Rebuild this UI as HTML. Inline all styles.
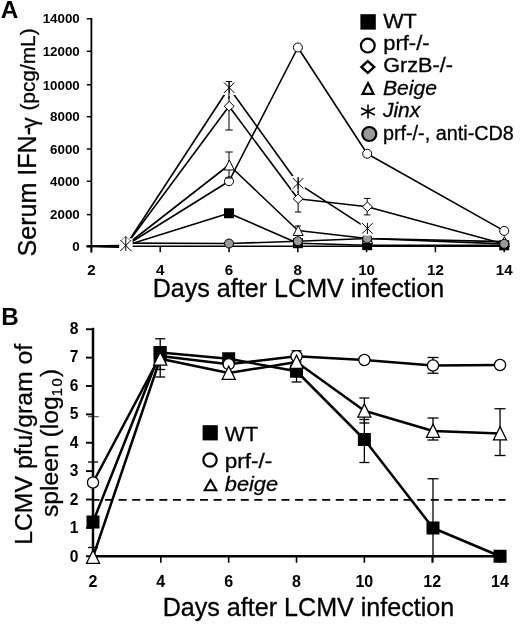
<!DOCTYPE html>
<html><head><meta charset="utf-8"><title>Figure</title>
<style>
html,body{margin:0;padding:0;background:#fff;}
svg{display:block;font-family:'Liberation Sans', Arial, sans-serif;fill:#000;}
text{stroke:#000;stroke-width:0.3px;}
text[font-weight=bold]{stroke:none;}
</style></head><body>
<svg width="520" height="625" viewBox="0 0 520 625">
<rect width="520" height="625" fill="#fff"/>
<g id="panelA">
<line x1="91.4" y1="18" x2="91.4" y2="252.5" stroke="#000" stroke-width="1.8"/>
<line x1="90.55" y1="246.2" x2="504.5" y2="246.2" stroke="#000" stroke-width="1.6"/>
<line x1="86.8" y1="18.75" x2="91.4" y2="18.75" stroke="#000" stroke-width="1.5"/>
<text transform="translate(79.8,23.45) scale(1.115,1)" font-size="12" font-weight="bold" text-anchor="end">14000</text>
<line x1="86.8" y1="51.3" x2="91.4" y2="51.3" stroke="#000" stroke-width="1.5"/>
<text transform="translate(79.8,56.0) scale(1.115,1)" font-size="12" font-weight="bold" text-anchor="end">12000</text>
<line x1="86.8" y1="84.8" x2="91.4" y2="84.8" stroke="#000" stroke-width="1.5"/>
<text transform="translate(79.8,89.5) scale(1.115,1)" font-size="12" font-weight="bold" text-anchor="end">10000</text>
<line x1="86.8" y1="116.7" x2="91.4" y2="116.7" stroke="#000" stroke-width="1.5"/>
<text transform="translate(79.8,121.4) scale(1.115,1)" font-size="12" font-weight="bold" text-anchor="end">8000</text>
<line x1="86.8" y1="149" x2="91.4" y2="149" stroke="#000" stroke-width="1.5"/>
<text transform="translate(79.8,153.7) scale(1.115,1)" font-size="12" font-weight="bold" text-anchor="end">6000</text>
<line x1="86.8" y1="181.3" x2="91.4" y2="181.3" stroke="#000" stroke-width="1.5"/>
<text transform="translate(79.8,186.0) scale(1.115,1)" font-size="12" font-weight="bold" text-anchor="end">4000</text>
<line x1="86.8" y1="214.6" x2="91.4" y2="214.6" stroke="#000" stroke-width="1.5"/>
<text transform="translate(79.8,219.3) scale(1.115,1)" font-size="12" font-weight="bold" text-anchor="end">2000</text>
<line x1="86.8" y1="246.2" x2="91.4" y2="246.2" stroke="#000" stroke-width="1.5"/>
<text transform="translate(79.8,250.9) scale(1.115,1)" font-size="12" font-weight="bold" text-anchor="end">0</text>
<line x1="91.4" y1="246.2" x2="91.4" y2="252.2" stroke="#000" stroke-width="1.5"/>
<text transform="translate(91.4,275.3) scale(1.08,1)" font-size="14" font-weight="bold" text-anchor="middle">2</text>
<line x1="160.2" y1="246.2" x2="160.2" y2="252.2" stroke="#000" stroke-width="1.5"/>
<text transform="translate(160.2,275.3) scale(1.08,1)" font-size="14" font-weight="bold" text-anchor="middle">4</text>
<line x1="229.0" y1="246.2" x2="229.0" y2="252.2" stroke="#000" stroke-width="1.5"/>
<text transform="translate(229.0,275.3) scale(1.08,1)" font-size="14" font-weight="bold" text-anchor="middle">6</text>
<line x1="297.8" y1="246.2" x2="297.8" y2="252.2" stroke="#000" stroke-width="1.5"/>
<text transform="translate(297.8,275.3) scale(1.08,1)" font-size="14" font-weight="bold" text-anchor="middle">8</text>
<line x1="366.6" y1="246.2" x2="366.6" y2="252.2" stroke="#000" stroke-width="1.5"/>
<text transform="translate(366.6,275.3) scale(1.08,1)" font-size="14" font-weight="bold" text-anchor="middle">10</text>
<line x1="435.4" y1="246.2" x2="435.4" y2="252.2" stroke="#000" stroke-width="1.5"/>
<text transform="translate(435.4,275.3) scale(1.08,1)" font-size="14" font-weight="bold" text-anchor="middle">12</text>
<line x1="504.2" y1="246.2" x2="504.2" y2="252.2" stroke="#000" stroke-width="1.5"/>
<text transform="translate(504.2,275.3) scale(1.08,1)" font-size="14" font-weight="bold" text-anchor="middle">14</text>
<polygon points="91.4,245.2 106,245 119.6,244.7 119.6,248 106,247.7 91.4,247.3" fill="#000"/>
<line x1="86.6" y1="246.3" x2="91.4" y2="246.3" stroke="#000" stroke-width="2.6"/>
<polyline fill="none" stroke="#000" stroke-width="1.6" stroke-linejoin="round" points="125.8,245.5 229,213.25 297.9,243.2 367.2,245.2 504.2,245.3"/>
<rect x="224.0" y="208.25" width="10" height="10" fill="#000"/>
<rect x="292.9" y="238.2" width="10" height="10" fill="#000"/>
<rect x="362.2" y="240.2" width="10" height="10" fill="#000"/>
<rect x="499.2" y="240.3" width="10" height="10" fill="#000"/>
<polyline fill="none" stroke="#000" stroke-width="1.6" stroke-linejoin="round" points="125.8,245.5 229,181.25 297.9,47.5 367.2,153.75 504.2,230.9"/>
<circle cx="125.8" cy="245.5" r="4.5" fill="#fff" stroke="#000" stroke-width="1"/>
<circle cx="229" cy="181.25" r="4.5" fill="#fff" stroke="#000" stroke-width="1"/>
<circle cx="297.9" cy="47.5" r="4.5" fill="#fff" stroke="#000" stroke-width="1"/>
<circle cx="367.2" cy="153.75" r="4.5" fill="#fff" stroke="#000" stroke-width="1"/>
<circle cx="504.2" cy="230.9" r="4.5" fill="#fff" stroke="#000" stroke-width="1"/>
<polyline fill="none" stroke="#000" stroke-width="1.6" stroke-linejoin="round" points="125.8,245.5 229,106.25 297.9,198.75 367.2,206.75 504.2,244"/>
<line x1="229" y1="96" x2="229" y2="130" stroke="#000" stroke-width="1"/>
<line x1="225.25" y1="130" x2="232.75" y2="130" stroke="#000" stroke-width="1"/>
<line x1="298.1" y1="191" x2="298.1" y2="212" stroke="#000" stroke-width="1"/>
<line x1="294.85" y1="212" x2="301.35" y2="212" stroke="#000" stroke-width="1"/>
<line x1="367.2" y1="198.4" x2="367.2" y2="214.9" stroke="#000" stroke-width="1"/>
<line x1="363.95" y1="198.4" x2="370.45" y2="198.4" stroke="#000" stroke-width="1"/>
<line x1="363.95" y1="214.9" x2="370.45" y2="214.9" stroke="#000" stroke-width="1"/>
<polygon points="126.0,240.75 131.0,245.5 126.0,250.25 121.0,245.5" fill="#fff" stroke="#000" stroke-width="1"/>
<polygon points="229.2,101.5 234.2,106.25 229.2,111.0 224.2,106.25" fill="#fff" stroke="#000" stroke-width="1"/>
<polygon points="298.1,194.0 303.1,198.75 298.1,203.5 293.1,198.75" fill="#fff" stroke="#000" stroke-width="1"/>
<polygon points="367.4,202.0 372.4,206.75 367.4,211.5 362.4,206.75" fill="#fff" stroke="#000" stroke-width="1"/>
<polygon points="504.4,239.25 509.4,244 504.4,248.75 499.4,244" fill="#fff" stroke="#000" stroke-width="1"/>
<polyline fill="none" stroke="#000" stroke-width="1.6" stroke-linejoin="round" points="125.8,245.5 229,165 297.9,230.5 367.2,238.5 504.2,241.6"/>
<line x1="229" y1="152" x2="229" y2="178" stroke="#000" stroke-width="1"/>
<line x1="225.25" y1="152" x2="232.75" y2="152" stroke="#000" stroke-width="1"/>
<line x1="225.25" y1="178" x2="232.75" y2="178" stroke="#000" stroke-width="1"/>
<line x1="297.9" y1="226" x2="297.9" y2="235" stroke="#000" stroke-width="1"/>
<line x1="294.9" y1="226" x2="300.9" y2="226" stroke="#000" stroke-width="1"/>
<line x1="294.9" y1="235" x2="300.9" y2="235" stroke="#000" stroke-width="1"/>
<polygon points="126.1,240.5 131.1,250.5 121.1,250.5" fill="#fff" stroke="#000" stroke-width="1"/>
<polygon points="229.3,160.0 234.3,170.0 224.3,170.0" fill="#fff" stroke="#000" stroke-width="1"/>
<polygon points="298.2,225.5 303.2,235.5 293.2,235.5" fill="#fff" stroke="#000" stroke-width="1"/>
<polygon points="367.5,233.5 372.5,243.5 362.5,243.5" fill="#fff" stroke="#000" stroke-width="1"/>
<polygon points="504.5,236.6 509.5,246.6 499.5,246.6" fill="#fff" stroke="#000" stroke-width="1"/>
<polyline fill="none" stroke="#000" stroke-width="1.6" stroke-linejoin="round" points="125.8,243.1 229,243.5 297.9,241.25 367.2,238.5 504.2,243.85"/>
<circle cx="229" cy="243.5" r="4.5" fill="#999" stroke="#000" stroke-width="1"/>
<circle cx="297.9" cy="241.25" r="4.5" fill="#999" stroke="#000" stroke-width="1"/>
<circle cx="367.2" cy="238.5" r="4.5" fill="#999" stroke="#000" stroke-width="1"/>
<circle cx="504.2" cy="243.85" r="4.5" fill="#999" stroke="#000" stroke-width="1"/>
<polyline fill="none" stroke="#000" stroke-width="1.6" stroke-linejoin="round" points="125.8,245.5 229,87.7 297.9,183.3 367.2,228.4"/>
<rect x="119.2" y="238.3" width="13.4" height="14.4" fill="#fff"/>
<rect x="222.5" y="80.5" width="13.4" height="14.4" fill="#fff"/>
<rect x="291.4" y="176.1" width="13.4" height="14.4" fill="#fff"/>
<rect x="360.7" y="221.2" width="13.4" height="14.4" fill="#fff"/>
<line x1="229" y1="81.5" x2="229" y2="99" stroke="#000" stroke-width="1"/>
<line x1="225.8" y1="81.5" x2="232.2" y2="81.5" stroke="#000" stroke-width="1"/>
<line x1="298.1" y1="177" x2="298.1" y2="193" stroke="#000" stroke-width="1"/>
<line x1="125.8" y1="236.3" x2="125.8" y2="250.8" stroke="#000" stroke-width="1"/>
<line x1="120.3" y1="240.0" x2="131.3" y2="251.0" stroke="#000" stroke-width="1"/>
<line x1="120.3" y1="251.0" x2="131.3" y2="240.0" stroke="#000" stroke-width="1"/>
<line x1="125.6" y1="236.5" x2="121.2" y2="240.4" stroke="#000" stroke-width="0.7" opacity="0.7"/>
<line x1="125.6" y1="236.5" x2="130.2" y2="240.4" stroke="#000" stroke-width="0.7" opacity="0.7"/>
<line x1="229.2" y1="82.15" x2="229.2" y2="93.25" stroke="#000" stroke-width="1"/>
<line x1="223.95" y1="82.45" x2="234.45" y2="92.95" stroke="#000" stroke-width="1"/>
<line x1="223.95" y1="92.95" x2="234.45" y2="82.45" stroke="#000" stroke-width="1"/>
<line x1="298.1" y1="177.75" x2="298.1" y2="188.85" stroke="#000" stroke-width="1"/>
<line x1="292.85" y1="178.05" x2="303.35" y2="188.55" stroke="#000" stroke-width="1"/>
<line x1="292.85" y1="188.55" x2="303.35" y2="178.05" stroke="#000" stroke-width="1"/>
<line x1="367.4" y1="222.85" x2="367.4" y2="233.95" stroke="#000" stroke-width="1"/>
<line x1="362.15" y1="223.15" x2="372.65" y2="233.65" stroke="#000" stroke-width="1"/>
<line x1="362.15" y1="233.65" x2="372.65" y2="223.15" stroke="#000" stroke-width="1"/>
<rect x="360.4" y="14.2" width="15.4" height="15.4" fill="#000"/>
<circle cx="367.8" cy="45.6" r="6.9" fill="#fff" stroke="#000" stroke-width="2.2"/>
<polygon points="367.8,61.2 374.2,67 367.8,72.8 361.4,67" fill="#fff" stroke="#000" stroke-width="2.4"/>
<polygon points="368,83.1 373.5,93.9 362.5,93.9" fill="#fff" stroke="#000" stroke-width="2.2"/>
<line x1="368.0" y1="104.4" x2="368.0" y2="118.6" stroke="#000" stroke-width="1.6"/>
<line x1="361.07" y1="107.95" x2="374.93" y2="115.05" stroke="#000" stroke-width="1.6"/>
<line x1="374.93" y1="107.95" x2="361.07" y2="115.05" stroke="#000" stroke-width="1.6"/>
<circle cx="369.3" cy="134" r="7.0" fill="#999" stroke="#000" stroke-width="2.2"/>
<text transform="translate(383.2,27.8)" font-size="19.5" textLength="33.6" lengthAdjust="spacingAndGlyphs">WT</text>
<text transform="translate(383.2,49.6)" font-size="19.5" textLength="46.4" lengthAdjust="spacingAndGlyphs">prf-/-</text>
<text transform="translate(383.2,72.4)" font-size="19.5" textLength="69.7" lengthAdjust="spacingAndGlyphs">GrzB-/-</text>
<text transform="translate(382.9,94.8)" font-size="19.5" font-style="italic" textLength="54" lengthAdjust="spacingAndGlyphs">Beige</text>
<text transform="translate(382.9,117.4)" font-size="19.5" font-style="italic" textLength="37.4" lengthAdjust="spacingAndGlyphs">Jinx</text>
<text transform="translate(382.9,139.6)" font-size="19.5" textLength="131" lengthAdjust="spacingAndGlyphs">prf-/-, anti-CD8</text>
<text transform="translate(0.8,17.5)" font-size="24.3" font-weight="bold">A</text>
<text transform="translate(152.7,297.3) scale(1,1.035)" font-size="24.8" textLength="291.6" lengthAdjust="spacingAndGlyphs">Days after LCMV infection</text>
<text transform="translate(36.4,256.5) rotate(-90) scale(1,1.07)" font-size="24.7" textLength="129.6" lengthAdjust="spacingAndGlyphs">Serum IFN-</text>
<text transform="translate(36.6,128.2) rotate(-90)" font-size="21.5">γ</text>
<text transform="translate(35.4,110.6) rotate(-90)" font-size="19.6" textLength="82.2" lengthAdjust="spacingAndGlyphs">(pcg/mL)</text>
</g>
<g id="panelB">
<line x1="93" y1="327.8" x2="93" y2="557.5" stroke="#000" stroke-width="2.5"/>
<line x1="91.75" y1="556.25" x2="506" y2="556.25" stroke="#000" stroke-width="2.5"/>
<line x1="86" y1="556.25" x2="93" y2="556.25" stroke="#000" stroke-width="1.9"/>
<text transform="translate(78.5,561.5)" font-size="15.6" font-weight="bold" text-anchor="end">0</text>
<line x1="86" y1="527.88" x2="93" y2="527.88" stroke="#000" stroke-width="1.9"/>
<text transform="translate(78.5,533.0)" font-size="15.6" font-weight="bold" text-anchor="end">1</text>
<line x1="86" y1="499.5" x2="93" y2="499.5" stroke="#000" stroke-width="1.9"/>
<text transform="translate(78.5,504.5)" font-size="15.6" font-weight="bold" text-anchor="end">2</text>
<line x1="86" y1="471.12" x2="93" y2="471.12" stroke="#000" stroke-width="1.9"/>
<text transform="translate(78.5,476.0)" font-size="15.6" font-weight="bold" text-anchor="end">3</text>
<line x1="86" y1="442.75" x2="93" y2="442.75" stroke="#000" stroke-width="1.9"/>
<text transform="translate(78.5,447.5)" font-size="15.6" font-weight="bold" text-anchor="end">4</text>
<line x1="86" y1="414.38" x2="93" y2="414.38" stroke="#000" stroke-width="1.9"/>
<text transform="translate(78.5,419.0)" font-size="15.6" font-weight="bold" text-anchor="end">5</text>
<line x1="86" y1="386.0" x2="93" y2="386.0" stroke="#000" stroke-width="1.9"/>
<text transform="translate(78.5,390.5)" font-size="15.6" font-weight="bold" text-anchor="end">6</text>
<line x1="86" y1="357.62" x2="93" y2="357.62" stroke="#000" stroke-width="1.9"/>
<text transform="translate(78.5,362.0)" font-size="15.6" font-weight="bold" text-anchor="end">7</text>
<line x1="86" y1="329.25" x2="93" y2="329.25" stroke="#000" stroke-width="1.9"/>
<text transform="translate(78.5,333.5)" font-size="15.6" font-weight="bold" text-anchor="end">8</text>
<line x1="88" y1="416.7" x2="98.75" y2="416.7" stroke="#000" stroke-width="0.8"/>
<line x1="93.0" y1="556.25" x2="93.0" y2="562.75" stroke="#000" stroke-width="1.6"/>
<text transform="translate(93.0,586.5) scale(1.03,1)" font-size="15.6" font-weight="bold" text-anchor="middle">2</text>
<line x1="160.84" y1="556.25" x2="160.84" y2="562.75" stroke="#000" stroke-width="1.6"/>
<text transform="translate(160.84,586.5) scale(1.03,1)" font-size="15.6" font-weight="bold" text-anchor="middle">4</text>
<line x1="228.68" y1="556.25" x2="228.68" y2="562.75" stroke="#000" stroke-width="1.6"/>
<text transform="translate(228.68,586.5) scale(1.03,1)" font-size="15.6" font-weight="bold" text-anchor="middle">6</text>
<line x1="296.52" y1="556.25" x2="296.52" y2="562.75" stroke="#000" stroke-width="1.6"/>
<text transform="translate(296.52,586.5) scale(1.03,1)" font-size="15.6" font-weight="bold" text-anchor="middle">8</text>
<line x1="364.36" y1="556.25" x2="364.36" y2="562.75" stroke="#000" stroke-width="1.6"/>
<text transform="translate(364.36,586.5) scale(1.03,1)" font-size="15.6" font-weight="bold" text-anchor="middle">10</text>
<line x1="432.2" y1="556.25" x2="432.2" y2="562.75" stroke="#000" stroke-width="1.6"/>
<text transform="translate(432.2,586.5) scale(1.03,1)" font-size="15.6" font-weight="bold" text-anchor="middle">12</text>
<line x1="500.04" y1="556.25" x2="500.04" y2="562.75" stroke="#000" stroke-width="1.6"/>
<text transform="translate(500.04,586.5) scale(1.03,1)" font-size="15.6" font-weight="bold" text-anchor="middle">14</text>
<line x1="91.5" y1="499.8" x2="505.5" y2="499.8" stroke="#000" stroke-width="1.8" stroke-dasharray="8 5.57"/>
<polyline fill="none" stroke="#000" stroke-width="2.5" stroke-linejoin="round" points="93.0,522 160.2,352.5 228.68,358.75 296.52,371.25 364.36,439.5 433.0,528 500.04,556.25"/>
<line x1="93.0" y1="500" x2="93.0" y2="547.5" stroke="#000" stroke-width="1.3"/>
<line x1="88.0" y1="547.5" x2="98.0" y2="547.5" stroke="#000" stroke-width="1.3"/>
<line x1="160.2" y1="338.75" x2="160.2" y2="369.5" stroke="#000" stroke-width="1.3"/>
<line x1="155.2" y1="338.75" x2="165.2" y2="338.75" stroke="#000" stroke-width="1.3"/>
<line x1="155.2" y1="369.5" x2="165.2" y2="369.5" stroke="#000" stroke-width="1.3"/>
<line x1="296.52" y1="361" x2="296.52" y2="382" stroke="#000" stroke-width="1.3"/>
<line x1="291.52" y1="382" x2="301.52" y2="382" stroke="#000" stroke-width="1.3"/>
<line x1="364.36" y1="419.5" x2="364.36" y2="462.5" stroke="#000" stroke-width="1.3"/>
<line x1="359.36" y1="419.5" x2="369.36" y2="419.5" stroke="#000" stroke-width="1.3"/>
<line x1="359.36" y1="462.5" x2="369.36" y2="462.5" stroke="#000" stroke-width="1.3"/>
<line x1="433.0" y1="478.75" x2="433.0" y2="562.5" stroke="#000" stroke-width="1.3"/>
<line x1="427.5" y1="478.75" x2="438.5" y2="478.75" stroke="#000" stroke-width="1.3"/>
<rect x="86.5" y="515.5" width="13" height="13" fill="#000"/>
<rect x="153.7" y="346.0" width="13" height="13" fill="#000"/>
<rect x="222.18" y="352.25" width="13" height="13" fill="#000"/>
<rect x="290.02" y="364.75" width="13" height="13" fill="#000"/>
<rect x="357.86" y="433.0" width="13" height="13" fill="#000"/>
<rect x="426.5" y="521.5" width="13" height="13" fill="#000"/>
<rect x="493.54" y="549.75" width="13" height="13" fill="#000"/>
<polyline fill="none" stroke="#000" stroke-width="2.5" stroke-linejoin="round" points="93.0,482.5 160.2,356 228.68,364.2 296.52,356.25 364.36,360 433.0,365.5 500.04,365"/>
<line x1="93.0" y1="462" x2="93.0" y2="500" stroke="#000" stroke-width="1.3"/>
<line x1="88.0" y1="462" x2="98.0" y2="462" stroke="#000" stroke-width="1.3"/>
<line x1="296.52" y1="350.75" x2="296.52" y2="362" stroke="#000" stroke-width="1.3"/>
<line x1="291.52" y1="350.75" x2="301.52" y2="350.75" stroke="#000" stroke-width="1.3"/>
<line x1="291.52" y1="362" x2="301.52" y2="362" stroke="#000" stroke-width="1.3"/>
<line x1="433.0" y1="357.5" x2="433.0" y2="373.25" stroke="#000" stroke-width="1.3"/>
<line x1="427.5" y1="357.5" x2="438.5" y2="357.5" stroke="#000" stroke-width="1.3"/>
<line x1="427.5" y1="373.25" x2="438.5" y2="373.25" stroke="#000" stroke-width="1.3"/>
<circle cx="93.0" cy="482.5" r="5.6" fill="#fff" stroke="#000" stroke-width="1.3"/>
<circle cx="228.68" cy="364.2" r="5.6" fill="#fff" stroke="#000" stroke-width="1.3"/>
<circle cx="296.52" cy="356.25" r="5.6" fill="#fff" stroke="#000" stroke-width="1.3"/>
<circle cx="364.36" cy="360" r="5.6" fill="#fff" stroke="#000" stroke-width="1.3"/>
<circle cx="433.0" cy="365.5" r="5.6" fill="#fff" stroke="#000" stroke-width="1.3"/>
<circle cx="500.04" cy="365" r="5.6" fill="#fff" stroke="#000" stroke-width="1.3"/>
<polyline fill="none" stroke="#000" stroke-width="2.5" stroke-linejoin="round" points="93.0,557 160.2,358.75 228.68,373 296.52,362 364.36,410.75 433.0,431 500.04,433.5"/>
<rect x="153.6" y="346" width="12.6" height="17.6" fill="#000"/>
<line x1="160.2" y1="364" x2="160.2" y2="377" stroke="#000" stroke-width="1.3"/>
<line x1="155.2" y1="377" x2="165.2" y2="377" stroke="#000" stroke-width="1.3"/>
<line x1="364.36" y1="398" x2="364.36" y2="423" stroke="#000" stroke-width="1.3"/>
<line x1="359.36" y1="398" x2="369.36" y2="398" stroke="#000" stroke-width="1.3"/>
<line x1="359.36" y1="423" x2="369.36" y2="423" stroke="#000" stroke-width="1.3"/>
<line x1="433.0" y1="418" x2="433.0" y2="440" stroke="#000" stroke-width="1.3"/>
<line x1="427.5" y1="418" x2="438.5" y2="418" stroke="#000" stroke-width="1.3"/>
<line x1="427.5" y1="440" x2="438.5" y2="440" stroke="#000" stroke-width="1.3"/>
<line x1="500.04" y1="408.75" x2="500.04" y2="455.5" stroke="#000" stroke-width="1.3"/>
<line x1="494.54" y1="408.75" x2="505.54" y2="408.75" stroke="#000" stroke-width="1.3"/>
<line x1="494.54" y1="455.5" x2="505.54" y2="455.5" stroke="#000" stroke-width="1.3"/>
<polygon points="93.0,550.1 99.5,563.3 86.5,563.3" fill="#fff" stroke="#000" stroke-width="1.3"/>
<polygon points="160.2,351.85 166.7,365.05 153.7,365.05" fill="#fff" stroke="#000" stroke-width="1.3"/>
<polygon points="228.68,366.1 235.18,379.3 222.18,379.3" fill="#fff" stroke="#000" stroke-width="1.3"/>
<polygon points="296.52,355.1 303.02,368.3 290.02,368.3" fill="#fff" stroke="#000" stroke-width="1.3"/>
<polygon points="364.36,403.85 370.86,417.05 357.86,417.05" fill="#fff" stroke="#000" stroke-width="1.3"/>
<polygon points="433.0,424.1 439.5,437.3 426.5,437.3" fill="#fff" stroke="#000" stroke-width="1.3"/>
<polygon points="500.04,426.6 506.54,439.8 493.54,439.8" fill="#fff" stroke="#000" stroke-width="1.3"/>
<rect x="202.6" y="425.2" width="15.2" height="15.2" fill="#000"/>
<circle cx="210" cy="460" r="6.7" fill="#fff" stroke="#000" stroke-width="2.2"/>
<polygon points="210.5,479.95 216.4,490.35 204.6,490.35" fill="#fff" stroke="#000" stroke-width="2"/>
<text transform="translate(224.8,440.7)" font-size="20" textLength="33.3" lengthAdjust="spacingAndGlyphs">WT</text>
<text transform="translate(224.8,467.5)" font-size="20" textLength="47.5" lengthAdjust="spacingAndGlyphs">prf-/-</text>
<text transform="translate(224.8,491.2)" font-size="20" font-style="italic" textLength="53.2" lengthAdjust="spacingAndGlyphs">beige</text>
<text transform="translate(1.2,324.5)" font-size="24.3" font-weight="bold">B</text>
<text transform="translate(162.7,616.3) scale(1,1.03)" font-size="24.8" textLength="291.6" lengthAdjust="spacingAndGlyphs">Days after LCMV infection</text>
<text transform="translate(31.7,544.8) rotate(-90)" font-size="24.6" textLength="201" lengthAdjust="spacingAndGlyphs">LCMV pfu/gram of</text>
<text transform="translate(58.4,517) rotate(-90)" font-size="24.7">spleen (log<tspan font-size="14.8" dy="3.7" letter-spacing="1.4">10</tspan><tspan dy="-3.7">)</tspan></text>
</g>
</svg>
</body></html>
